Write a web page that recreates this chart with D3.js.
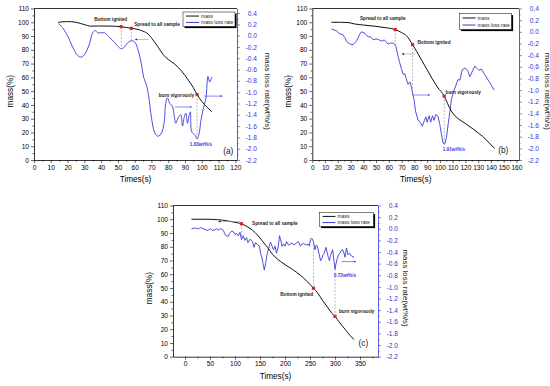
<!DOCTYPE html>
<html>
<head>
<meta charset="utf-8">
<script src="https://cdn.jsdelivr.net/npm/d3@7"></script>
<style>
body { margin: 0; background: #fff; }
svg { display: block; font-family: Arial, "Liberation Sans", sans-serif; }
</style>
</head>
<body>
<svg id="chart" width="550" height="386"></svg>
<script>
// ---- data: [time (s), value] ----
// panel (a)
var massA = [[14.5,100],[20,100.5],[25,100],[30,98.3],[34,97.2],[40,97.3],[46,97.2],[52,96.8],[58,95.6],[62,94.8],
  [65,93.5],[68,91.5],[71,87],[74,82],[77,76.5],[80,73],[84,69.5],[88,64.5],[92,58],[95,52.5],[97.2,47.5],
  [100,42.5],[103,38.5],[106,35]];
var rateA = [[14.5,0.22],[17,0.14],[20,0.0],[23,-0.2],[26,-0.35],[28,-0.38],[30,-0.34],[33,-0.15],[35,0.05],
  [36.5,0.09],[38,0.05],[40,0.05],[42,0.05],[44,0.0],[46,-0.06],[48,-0.12],[50,-0.19],[52,-0.23],[54,-0.2],
  [56,-0.12],[58,-0.09],[60,-0.11],[62,-0.25],[64,-0.5],[65.5,-0.75],[67,-0.87],[68.5,-1.1],[70,-1.45],
  [72,-1.72],[74,-1.78],[76,-1.72],[77.5,-1.55],[78.5,-1.2],[79.5,-1.1],[81,-1.2],[82.5,-1.25],[83.5,-1.4],
  [84.5,-1.55],[86,-1.45],[87.5,-1.4],[88.5,-1.6],[89.5,-1.45],[90.5,-1.37],[91.5,-1.55],[92.5,-1.4],
  [93.2,-1.35],[94,-1.7],[96,-1.76],[97.2,-1.83],[98.5,-1.72],[99.5,-1.5],[101,-1.28],[102.5,-1.1],
  [103.7,-0.72],[104.7,-0.82],[106,-0.73]];
// events: [time, mass, rate at the end of the dashed drop line]
var eventsA = [[52,96.8,-0.23],[58,95.6,-0.09],[97.2,47.5,-1.83]];

// panel (b)
var massB = [[15,100],[22,100],[28,99.8],[33,98.8],[40,98],[50,97],[58,96],[65,94.7],[70,92.5],[74,90],
  [78.6,83.8],[82,78.5],[86,72],[90,65.5],[94,59],[98,53],[103.4,46.4],[106,41],[109,35.5],[115,29.5],
  [120,26.5],[126,22.5],[131,19],[136,15],[140,11],[143,8.5]];
var rateB = [[15,0.05],[17,0.03],[19,0.02],[21,-0.03],[24,-0.05],[25.5,-0.1],[27,-0.17],[29.5,-0.21],[32,-0.22],
  [34.6,-0.16],[37.2,-0.04],[38.5,0.0],[41,-0.02],[43.7,-0.09],[45.5,-0.08],[47.7,-0.14],[50,-0.12],
  [51.6,-0.13],[54.2,-0.16],[56.5,-0.14],[59.4,-0.21],[62,-0.19],[63.8,-0.2],[65.4,-0.24],[67.2,-0.42],
  [68.5,-0.53],[69.8,-0.63],[71.2,-0.73],[72.5,-0.72],[73.8,-0.82],[75.1,-0.9],[76.5,-0.86],[77.7,-0.95],
  [79,-1.1],[79.7,-1.16],[81,-1.37],[82.8,-1.51],[84.7,-1.56],[86.3,-1.62],[87.3,-1.55],[89,-1.46],
  [90,-1.55],[91.6,-1.44],[92.8,-1.55],[94.2,-1.44],[95.4,-1.52],[96.7,-1.42],[98.5,-1.45],[99.8,-1.57],
  [101.3,-1.77],[102.5,-1.91],[103.8,-1.93],[105.1,-1.82],[106.4,-1.6],[107.7,-1.39],[109,-1.16],
  [110.3,-1.05],[112.4,-0.93],[114.2,-0.82],[115.7,-0.83],[117.5,-0.65],[119.6,-0.62],[121.7,-0.66],
  [123.5,-0.77],[125.6,-0.67],[127.4,-0.59],[129.3,-0.63],[130.5,-0.66],[132.6,-0.64],[135,-0.73],
  [139,-0.87],[142.5,-1.0]];
var eventsB = [[65,94.7,-0.24],[78.6,83.8,-1.1],[103.4,46.4,-1.92]];

// panel (c)
var massC = [[13,100],[40,100],[65,99.7],[85,98.8],[100,97.8],[113,96.7],[125,94.5],[135,92],[145,88.5],
  [155,84],[165,79.5],[175,74.5],[185,71],[200,67],[215,63.5],[230,59.5],[245,54.5],[257,49.8],[265,46.5],
  [275,41],[285,36],[293,32],[300,29.3],[310,24.5],[320,20],[330,15.5],[338,12.5]];
var rateC = [[13,0],[18,0.01],[23,0.01],[27,0],[31,0.02],[36,0],[40,-0.01],[44,-0.03],[47,-0.02],[51,0.0],
  [55,-0.03],[60,-0.02],[63,0.0],[67,-0.02],[71,0.0],[74,-0.01],[77,-0.03],[80,-0.1],[83,-0.12],[86.7,-0.13],
  [89,-0.08],[91,-0.06],[94,-0.04],[96.7,-0.05],[100,-0.1],[103,-0.08],[106.7,-0.12],[110,-0.06],[113,-0.19],
  [116,-0.12],[120,-0.2],[123,-0.15],[126,-0.24],[130,-0.18],[135,-0.22],[138,-0.32],[141,-0.24],[145,-0.27],
  [149,-0.3],[151,-0.42],[154,-0.5],[156,-0.6],[158.7,-0.71],[161,-0.6],[164.7,-0.42],[168,-0.31],[171,-0.23],
  [174,-0.3],[177,-0.36],[180,-0.3],[183,-0.42],[186.7,-0.3],[189,-0.12],[191.3,-0.19],[194,-0.3],[197,-0.26],
  [200,-0.3],[203,-0.22],[207,-0.28],[210,-0.27],[214,-0.24],[218,-0.28],[222,-0.25],[226.7,-0.22],[231,-0.3],
  [234,-0.26],[237,-0.25],[240,-0.27],[243.3,-0.28],[246,-0.26],[248.7,-0.3],[251,-0.18],[253.3,-0.16],
  [256.7,-0.22],[260,-0.36],[262.5,-0.28],[264.7,-0.3],[268.7,-0.45],[271,-0.55],[273.3,-0.52],[276,-0.45],
  [278,-0.43],[282,-0.32],[284,-0.4],[286.7,-0.49],[289,-0.55],[291,-0.46],[295.3,-0.36],[298,-0.55],
  [300,-0.7],[302,-0.6],[304.7,-0.51],[307,-0.45],[310,-0.42],[312,-0.38],[315.3,-0.36],[318,-0.42],
  [320,-0.49],[323,-0.33],[326,-0.45],[329,-0.42],[333,-0.47],[338,-0.49]];
var eventsC = [[113,96.7,-0.19],[257,49.8,-0.22],[300,29.3,-0.7]];

var massTicks = d3.range(0, 111, 10);
var rateTicks = d3.range(-22, 5, 2).map(v => v / 10);
var legendNames = ["mass", "mass loss rate"];

var blue = "#3b3bdc";
var blueAxis = "#3434d0";
var svg = d3.select("#chart");

// arrowheads
var defs = svg.append("defs");
[["headK", "#111"], ["headB", blue]].forEach(function (m) {
  defs.append("marker").attr("id", m[0])
    .attr("viewBox", "0 0 10 10").attr("refX", 9).attr("refY", 5)
    .attr("markerWidth", 4).attr("markerHeight", 4).attr("orient", "auto")
    .append("path").attr("d", "M0,1 L10,5 L0,9 Z").attr("fill", m[1]);
});

function drawPanel(p) {
  var g = svg.append("g");
  var x = d3.scaleLinear().domain(p.xDomain).range([p.left, p.right]);
  var yL = d3.scaleLinear().domain([0, 110]).range([p.bottom, p.top]);
  var yR = d3.scaleLinear().domain(p.rDomain).range([p.bottom, p.top]);

  // top frame
  g.append("line").attr("x1", p.left).attr("x2", p.right).attr("y1", p.top).attr("y2", p.top)
    .attr("stroke", "#000").attr("stroke-width", 0.8);

  // x axis
  var xMinor = p.xTicks.slice(0, -1).map((d, i) => (d + p.xTicks[i + 1]) / 2);
  var xLast = p.xTicks[p.xTicks.length - 1] + (p.xTicks[1] - p.xTicks[0]) / 2;
  if (xLast <= p.xDomain[1]) xMinor.push(xLast);
  g.append("g").attr("transform", "translate(0," + p.bottom + ")")
    .call(d3.axisBottom(x).tickValues(p.xTicks).tickSize(3).tickSizeOuter(0).tickPadding(2));
  g.append("g").attr("transform", "translate(0," + p.bottom + ")")
    .call(d3.axisBottom(x).tickValues(xMinor).tickSize(1.6).tickSizeOuter(0).tickFormat(""))
    .select(".domain").remove();

  // left axis
  g.append("g").attr("transform", "translate(" + p.left + ",0)")
    .call(d3.axisLeft(yL).tickValues(massTicks).tickSize(3).tickSizeOuter(0).tickPadding(2));
  g.append("g").attr("transform", "translate(" + p.left + ",0)")
    .call(d3.axisLeft(yL).tickValues(d3.range(5, 110, 10)).tickSize(1.6).tickSizeOuter(0).tickFormat(""))
    .select(".domain").remove();

  // right axis (blue)
  var gr = g.append("g").attr("transform", "translate(" + p.right + ",0)")
    .call(d3.axisRight(yR).tickValues(rateTicks).tickSize(3).tickSizeOuter(0).tickFormat(d => d.toFixed(1)));
  gr.selectAll("text").attr("text-anchor", "end").attr("x", 20);
  var gr2 = g.append("g").attr("transform", "translate(" + p.right + ",0)")
    .call(d3.axisRight(yR).tickValues(d3.range(-21, 5, 2).map(v => v / 10).filter(v => v <= p.rDomain[1]))
      .tickSize(1.6).tickSizeOuter(0).tickFormat(""));
  gr2.select(".domain").remove();

  g.selectAll(".domain").attr("stroke-width", 0.8);
  g.selectAll(".tick line").attr("stroke-width", 0.6);
  g.selectAll(".tick text").attr("font-size", 6.6).attr("font-family", "Arial, 'Liberation Sans', sans-serif");
  gr.selectAll("line,path").attr("stroke", blueAxis);
  gr.selectAll("text").attr("fill", blueAxis);
  gr2.selectAll("line").attr("stroke", blueAxis);

  // axis titles
  var midY = (p.top + p.bottom) / 2 + 7;
  g.append("text").attr("x", (p.left + p.right) / 2).attr("y", p.bottom + 22)
    .attr("text-anchor", "middle").attr("font-size", 8.2).text("Times(s)");
  g.append("text").attr("transform", "translate(" + (p.left - 21) + "," + midY + ") rotate(-90)")
    .attr("text-anchor", "middle").attr("font-size", 8.2).text("mass(%)");
  g.append("text").attr("transform", "translate(" + (p.right + p.rTitle) + "," + midY + ") rotate(90)")
    .attr("text-anchor", "middle").attr("font-size", 7.9).attr("fill", "#222").text("mass loss rate(wt%/s)");

  // curves
  g.append("path").datum(p.rate)
    .attr("d", d3.line().x(d => x(d[0])).y(d => yR(d[1])).curve(p.smooth ? d3.curveCatmullRom : d3.curveLinear))
    .attr("fill", "none").attr("stroke", blue).attr("stroke-width", 0.9);
  g.append("path").datum(p.mass)
    .attr("d", d3.line().x(d => x(d[0])).y(d => yL(d[1])).curve(d3.curveMonotoneX))
    .attr("fill", "none").attr("stroke", "#111").attr("stroke-width", 1);

  // dashed drop lines and red event markers
  g.selectAll(".drop").data(p.events).enter().append("line")
    .attr("x1", d => x(d[0])).attr("x2", d => x(d[0]))
    .attr("y1", d => yL(d[1])).attr("y2", d => yR(d[2]))
    .attr("stroke", "#888").attr("stroke-width", 0.6).attr("stroke-dasharray", "2,1.5");
  g.selectAll(".ev").data(p.events).enter().append("rect")
    .attr("x", d => x(d[0]) - 1.6).attr("y", d => yL(d[1]) - 1.6)
    .attr("width", 3.2).attr("height", 3.2).attr("fill", "#e0231f");

  // axis arrows: [t from, t to, mass-level, colour key]
  p.arrows.forEach(function (a) {
    g.append("line").attr("x1", x(a[0])).attr("x2", x(a[1])).attr("y1", yL(a[2])).attr("y2", yL(a[2]))
      .attr("stroke", a[3] === "k" ? "#999" : blue).attr("stroke-width", 0.6)
      .attr("marker-end", a[3] === "k" ? "url(#headK)" : "url(#headB)");
  });

  // annotations: [text, t, mass-level, style]
  p.notes.forEach(function (n) {
    var t = g.append("text").attr("x", x(n[1])).attr("y", yL(n[2])).attr("dy", "0.35em")
      .attr("text-anchor", "middle").text(n[0]);
    if (n[3] === "tag") t.attr("font-size", 8.4).attr("fill", "#222");
    else t.attr("font-size", 4.7).attr("font-weight", "bold").attr("fill", n[3] === "b" ? blue : "#222");
  });

  // legend with drop shadow
  var L = p.legend;
  g.append("rect").attr("x", L[0] + 1.6).attr("y", L[1] + 1.6).attr("width", L[2]).attr("height", L[3]).attr("fill", "#000");
  g.append("rect").attr("x", L[0]).attr("y", L[1]).attr("width", L[2]).attr("height", L[3])
    .attr("fill", "#fff").attr("stroke", "#000").attr("stroke-width", 0.5);
  legendNames.forEach(function (name, i) {
    var ly = L[1] + L[3] * (i === 0 ? 0.28 : 0.72);
    g.append("line").attr("x1", L[0] + 3).attr("x2", L[0] + 16).attr("y1", ly).attr("y2", ly)
      .attr("stroke", i === 0 ? "#111" : blue).attr("stroke-width", 1);
    g.append("text").attr("x", L[0] + 18).attr("y", ly).attr("dy", "0.35em")
      .attr("font-size", 5).attr("fill", "#222").text(name);
  });
}

drawPanel({
  left: 34, right: 237, top: 8.5, bottom: 160, rTitle: 28,
  xDomain: [0, 121], rDomain: [-2.2, 0.48], xTicks: d3.range(0, 121, 10),
  mass: massA, rate: rateA, events: eventsA, smooth: true,
  arrows: [[68.5, 60.2, 87.5, "k"], [84, 94, 38.5, "b"], [101.2, 112.3, 46.4, "b"]],
  notes: [["Bottom ignited", 45.7, 102.2], ["Spread to all sample", 73.3, 98.8],
          ["burn vigorously", 84.9, 46.6], ["1.83wt%/s", 99.5, 11, "b"], ["(a)", 115.8, 6.6, "tag"]],
  legend: [183, 12, 52, 14.5]
});

drawPanel({
  left: 312.3, right: 519, top: 8.5, bottom: 160, rTitle: 25.5,
  xDomain: [0, 162], rDomain: [-2.2, 0.4], xTicks: d3.range(0, 161, 10),
  mass: massB, rate: rateB, events: eventsB, smooth: false,
  arrows: [[80.6, 70.2, 77, "k"], [79, 92.2, 47.2, "b"]],
  notes: [["Spread to all sample", 55.2, 102.7], ["Bottom ignited", 95.4, 85.6],
          ["burn vigorously", 118.3, 49.4], ["1.91wt%/s", 111, 8, "b"], ["(b)", 149.7, 7.3, "tag"]],
  legend: [459.5, 13.5, 52, 16]
});

drawPanel({
  left: 173, right: 378, top: 205.5, bottom: 356.7, rTitle: 25,
  xDomain: [-24, 386], rDomain: [-2.2, 0.4], xTicks: d3.range(0, 351, 50),
  mass: massC, rate: rateC, events: eventsC, smooth: false,
  arrows: [[110, 66.7, 98.3, "k"], [313, 342, 69.2, "b"]],
  notes: [["Spread to all sample", 179.6, 97.1], ["Bottom ignited", 223.4, 45.4],
          ["burn vigorously", 343.4, 32.7], ["0.72wt%/s", 320, 59.4, "b"], ["(c)", 356.6, 9.7, "tag"]],
  legend: [319.5, 212.5, 54, 14]
});
</script>
</body>
</html>
